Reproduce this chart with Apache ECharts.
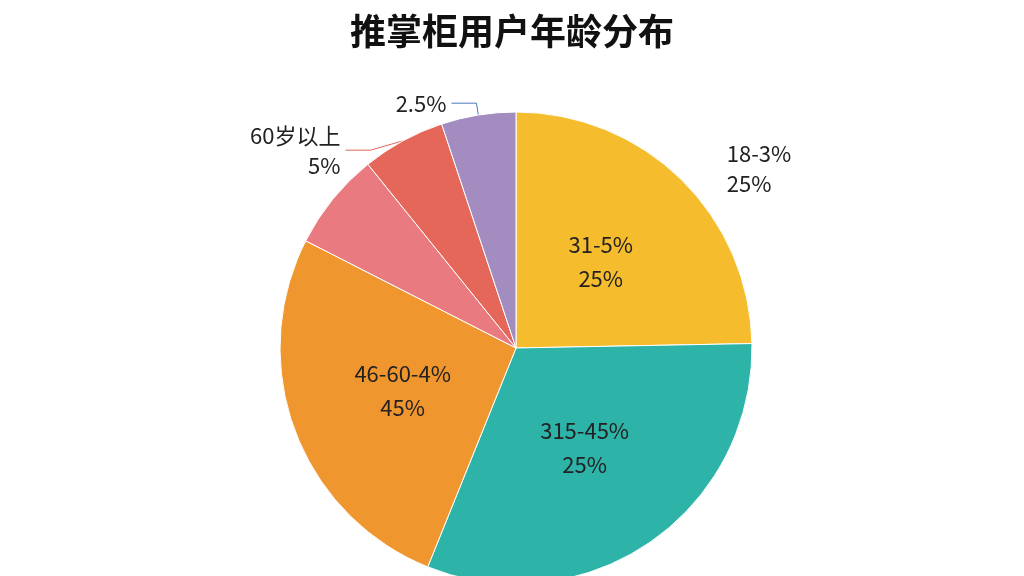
<!DOCTYPE html>
<html><head><meta charset="utf-8">
<script src="https://cdn.jsdelivr.net/npm/echarts@6/dist/echarts.min.js"></script>
<style>html,body{margin:0;background:#fff}#c{width:1024px;height:576px}</style>
</head><body><div id="c"></div>
<script>
var categories = ['31-5%', '315-45%', '46-60-4%', '', '60岁以上', ''];
var values = [24.7, 31.4, 26.4, 6.7, 5.7, 5.1];
var innerLabels = ['31-5%\n25%', '315-45%\n25%', '46-60-4%\n45%', '', '', ''];
var outerLabels = ['18-3%\n25%', '', '', '', '60岁以上\n5%', '2.5%'];
var colors = ['#F5BD2E', '#2DB3A8', '#F0962F', '#E97A80', '#E5675A', '#A38DC0'];
var lineColors = [null, null, null, null, '#E5675A', '#4A78B8'];
var chart = echarts.init(document.getElementById('c'));
var font = '"Noto Sans CJK SC", "Noto Sans", sans-serif';
chart.setOption({
  title: {text: '推掌柜用户年龄分布', left: 'center', top: 8,
    textStyle: {fontSize: 36, fontWeight: 'bold', color: '#111', fontFamily: font}},
  series: [{
    type: 'pie', radius: 236, center: [516, 348], startAngle: 90, clockwise: true,
    itemStyle: {borderColor: '#fff', borderWidth: 1},
    label: {position: 'inside', fontSize: 22, color: '#222', lineHeight: 34, fontFamily: font,
      formatter: function (p) { return innerLabels[p.dataIndex]; }},
    data: values.map(function (v, i) { return {name: categories[i] || ('s' + i), value: v, itemStyle: {color: colors[i]}}; })
  }, {
    type: 'pie', radius: 236, center: [516, 348], startAngle: 90, clockwise: true, silent: true,
    itemStyle: {color: 'rgba(0,0,0,0)'},
    label: {position: 'outside', fontSize: 22, color: '#222', lineHeight: 30, fontFamily: font,
      formatter: function (p) { return outerLabels[p.dataIndex]; }},
    data: values.map(function (v, i) {
      var has = outerLabels[i] !== '';
      var d = {name: 'o' + i, value: v, label: {show: has}};
      if (i === 0) { d.labelLine = {show: false}; }
      else if (has) { d.labelLine = {show: true, length: 12, length2: 25, lineStyle: {color: lineColors[i], width: 1}}; }
      else { d.labelLine = {show: false}; }
      return d;
    })
  }]
});
</script></body></html>
